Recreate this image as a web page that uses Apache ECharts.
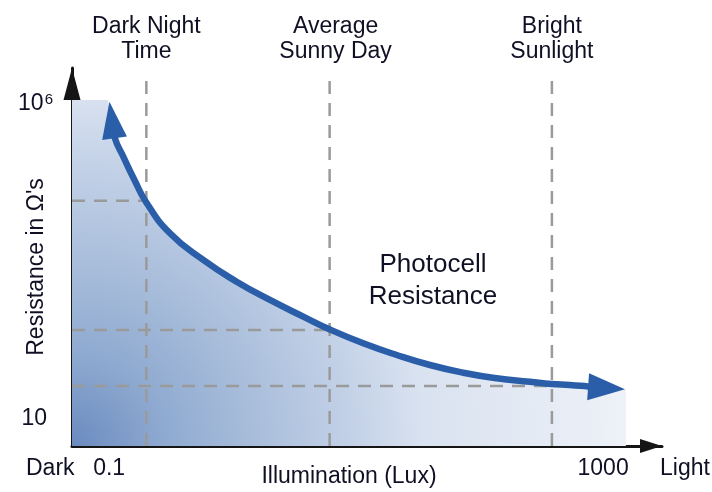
<!DOCTYPE html>
<html><head><meta charset="utf-8">
<script src="https://cdn.jsdelivr.net/npm/echarts@6/dist/echarts.min.js"></script>
<style>html,body{margin:0;padding:0;background:#fff}#c{width:712px;height:492px}</style>
</head><body><div id="c"></div>
<script>
// Photocell resistance curve (illumination in lux vs resistance in ohms)
const curveLux = [0.1054, 0.1114, 0.1301, 0.1603, 0.2012, 0.3107, 0.578, 1.077, 2.005, 3.73, 6.14, 11.42, 21.3, 39.6, 73.7, 137.3, 255.5, 383, 538, 753, 1067];
const curveOhm = [5.53e5, 2.83e5, 1.45e5, 6.17e4, 2.66e4, 8.8e3, 3.32e3, 1.50e3, 769, 418, 261, 158, 103, 71.4, 53.9, 44, 38.8, 35.7, 34.4, 32.6, 30.8];
// shaded region under the curve
const fillLux = [0.05, 0.0978, 0.1114, 0.1301, 0.1603, 0.2012, 0.3107, 0.578, 1.077, 2.005, 3.73, 6.14, 11.42, 21.3, 39.6, 73.7, 137.3, 255.5, 383, 538, 753, 1067, 1530];
const fillOhm = [1.15e6, 1.15e6, 2.83e5, 1.45e5, 6.17e4, 2.66e4, 8.8e3, 3.32e3, 1.50e3, 769, 418, 261, 158, 103, 71.4, 53.9, 44, 38.8, 35.7, 34.4, 32.6, 30.8, 29.4];
// reference conditions
const condNames = ['Dark Night\nTime', 'Average\nSunny Day', 'Bright\nSunlight'];
const condLux = [0.2, 6.1, 385];
const condOhm = [2.9e4, 257, 33.2];
const guideTopOhm = 2.3e6;
// axis ranges and tick labels
const xMin = 0.05, xMax = 3000;
const yMin = 3.7, yMax = 3.7e6;
const xTickValues = [0.1, 1000];
const xTickLabels = ['0.1', '1000'];
const yTickValues = [10, 1e6];
const yTickLabels = ['{p|10}', '{n|10}{s|6}'];
const curveName = 'Photocell\nResistance';
const curveLabelPos = [41.9, 1540];

const FONT = "'Liberation Sans', Arial, sans-serif";
const TXT = '#101024';
const BLUE = '#2a5ea8';

function matchTick(v, vals, labels) {
  for (let i = 0; i < vals.length; i++) {
    if (Math.abs(Math.log10(v) - Math.log10(vals[i])) < 0.01) return labels[i];
  }
  return '';
}

const curveData = curveLux.map((x, i) => {
  const item = { value: [x, curveOhm[i]] };
  if (i === 0) Object.assign(item, { symbol: 'triangle', symbolSize: [25, 37], symbolRotate: 8 });
  if (i === curveLux.length - 1) Object.assign(item, { symbol: 'triangle', symbolSize: [27, 37], symbolRotate: -94 });
  return item;
});

const labelBase = { color: TXT, fontFamily: FONT, textBorderWidth: 0, textBorderColor: 'transparent',
  textShadowBlur: 0, opacity: 1 };

const series = [];
series.push({
  type: 'line', name: 'fill', silent: true,
  data: fillLux.map((x, i) => [x, fillOhm[i]]),
  symbol: 'none', lineStyle: { width: 0 },
  areaStyle: {
    origin: 'start', opacity: 1,
    color: { type: 'radial', x: 72, y: 446, r: 560, global: true,
      colorStops: [
        { offset: 0, color: '#6a8bc0' },
        { offset: 0.16, color: '#8ea9d0' },
        { offset: 0.33, color: '#a9bedb' },
        { offset: 0.5, color: '#c3d1e7' },
        { offset: 0.63, color: '#d9e2f0' },
        { offset: 1, color: '#eef2f8' }
      ] }
  },
  z: 1
});
condLux.forEach((lx, i) => {
  series.push({
    type: 'line', silent: true, symbol: 'none', z: 2,
    data: [[lx, yMin], [lx, guideTopOhm]],
    lineStyle: { color: '#9a9a9a', width: 2.5, type: [13, 9] }
  });
  series.push({
    type: 'line', silent: true, symbol: 'none', z: 2,
    data: [[xMin, condOhm[i]], [lx, condOhm[i]]],
    lineStyle: { color: '#9a9a9a', width: 2.5, type: [13, 9] }
  });
});
series.push({
  type: 'line', name: 'curve', silent: true, z: 5,
  data: curveData, smooth: 0.5, symbol: 'circle', symbolSize: 0, showSymbol: true,
  lineStyle: { color: BLUE, width: 6.5 },
  itemStyle: { color: BLUE, borderWidth: 0 }
});
series.push({
  type: 'scatter', silent: true, z: 6, symbolSize: 0,
  itemStyle: { color: TXT },
  data: condLux.map((lx, i) => ({
    value: [lx, guideTopOhm],
    label: Object.assign({ show: true, position: 'top', distance: 17, formatter: condNames[i],
      offset: i === 1 ? [6, 0] : [0, 0], fontSize: 23, lineHeight: 25 }, labelBase)
  }))
});
series.push({
  type: 'scatter', silent: true, z: 6, symbolSize: 0,
  itemStyle: { color: TXT },
  data: [{ value: curveLabelPos,
    label: Object.assign({ show: true, position: 'inside', formatter: curveName,
      fontSize: 26, lineHeight: 32 }, labelBase) }]
});

const chart = echarts.init(document.getElementById('c'));
chart.setOption({
  animation: false,
  grid: { left: 72, right: 50, top: 68, bottom: 46, containLabel: false, outerBoundsMode: 'none' },
  xAxis: {
    type: 'log', logBase: 10, min: xMin, max: xMax,
    name: 'Illumination (Lux)', nameLocation: 'middle', nameGap: 19, nameMoveOverlap: false,
    nameTextStyle: { fontSize: 23, color: TXT, fontFamily: FONT, padding: [0, 36, 0, 0] },
    axisLine: { show: true, lineStyle: { color: '#151515', width: 3 },
      symbol: ['none', 'triangle'], symbolSize: [14, 22], symbolOffset: [0, -11] },
    axisTick: { show: false }, splitLine: { show: false },
    axisLabel: { margin: 11, fontSize: 23, color: TXT, fontFamily: FONT,
      formatter: v => matchTick(v, xTickValues, xTickLabels) }
  },
  yAxis: {
    type: 'log', logBase: 10, min: yMin, max: yMax,
    name: "Resistance in \u03A9's", nameLocation: 'middle', nameGap: 24, nameRotate: 90, nameMoveOverlap: false,
    nameTextStyle: { fontSize: 23, color: TXT, fontFamily: FONT, padding: [0, 20, 0, 0] },
    axisLine: { show: true, lineStyle: { color: '#151515', width: 3 },
      symbol: ['none', 'triangle'], symbolSize: [17, 32], symbolOffset: [0, -16] },
    axisTick: { show: false }, splitLine: { show: false },
    axisLabel: { margin: 19, color: TXT, fontFamily: FONT,
      formatter: v => matchTick(v, yTickValues, yTickLabels),
      rich: {
        n: { fontSize: 23, color: TXT, fontFamily: FONT },
        p: { fontSize: 23, color: TXT, fontFamily: FONT, padding: [0, 6, 0, 0] },
        s: { fontSize: 15, color: TXT, fontFamily: FONT, verticalAlign: 'top', padding: [0, 0, 8, 1] }
      } }
  },
  graphic: [
    { type: 'text', left: 26, top: 457, style: { text: 'Dark', fontSize: 23, fill: TXT, fontFamily: FONT } },
    { type: 'text', left: 660, top: 457, style: { text: 'Light', fontSize: 23, fill: TXT, fontFamily: FONT } }
  ],
  series: series
});
</script></body></html>
